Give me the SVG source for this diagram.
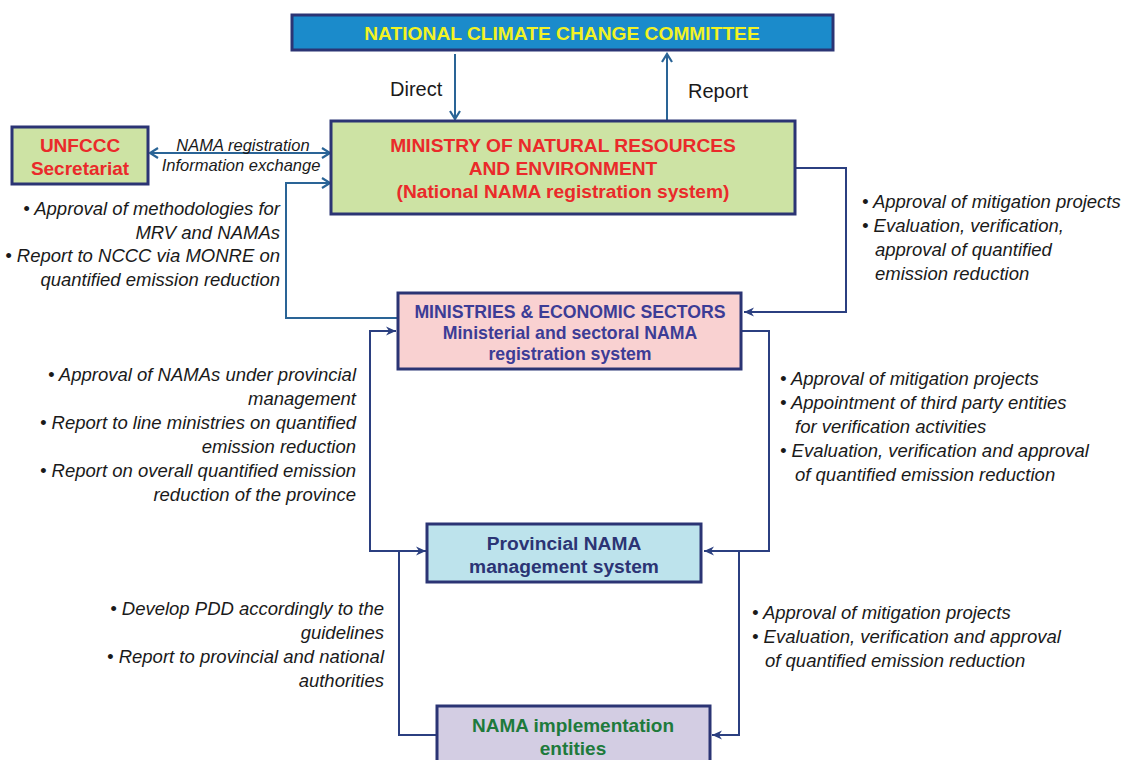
<svg xmlns="http://www.w3.org/2000/svg" width="1130" height="760" viewBox="0 0 1130 760">
<style>
.box{stroke:#2b3474;stroke-width:3}
.t{font-family:"Liberation Sans",Arial,sans-serif;font-weight:bold;text-anchor:middle}
.n{font-family:"Liberation Sans",Arial,sans-serif;font-style:italic;font-size:18.5px;fill:#1a1a1a}
.s{font-family:"Liberation Sans",Arial,sans-serif;font-style:italic;font-size:16.5px;fill:#1a1a1a;text-anchor:middle}
.r{text-anchor:end}
.lbl{font-family:"Liberation Sans",Arial,sans-serif;font-size:20px;fill:#1a1a1a}
.c1{fill:none;stroke:#2a6496;stroke-width:2}
.c2{fill:none;stroke:#2b3f80;stroke-width:2}
</style>
<defs>
<marker id="ao" markerWidth="12" markerHeight="12" refX="10" refY="6" orient="auto-start-reverse" markerUnits="userSpaceOnUse"><path d="M2,1 L10,6 L2,11" fill="none" stroke="#2a6496" stroke-width="2.2"/></marker>
<marker id="af" markerWidth="12" markerHeight="12" refX="10" refY="6" orient="auto-start-reverse" markerUnits="userSpaceOnUse"><path d="M0,1.5 L10,6 L0,10.5 L3,6 Z" fill="#2b3f80"/></marker>
</defs>
<rect width="1130" height="760" fill="#ffffff"/>

<g id="connectors">
<path class="c1" d="M455,54 V119" marker-end="url(#ao)"/>
<path class="c1" d="M667,120 V54" marker-end="url(#ao)"/>
<path class="c1" d="M150,153 H330" marker-start="url(#ao)" marker-end="url(#ao)"/>
<path class="c1" d="M398,318 H286 V183 H330" marker-end="url(#ao)"/>
<path class="c2" d="M796,168 H846 V312 H744" marker-end="url(#af)"/>
<path class="c2" d="M396,331 H370 V551 H426" marker-start="url(#af)" marker-end="url(#af)"/>
<path class="c2" d="M742,331 H769 V551 H704" marker-end="url(#af)"/>
<path class="c2" d="M437,735 H399 V551"/>
<path class="c2" d="M739,551 V735 H712" marker-end="url(#af)"/>
<text class="lbl" x="390" y="96">Direct</text>
<text class="lbl" x="688" y="98">Report</text>
<text class="s" x="243" y="151">NAMA registration</text>
<text class="s" x="241" y="171">Information exchange</text>
</g>

<g id="nccc">
<rect class="box" x="292" y="15" width="541" height="35" fill="#1b8bcb"/>
<text class="t" x="562" y="40" font-size="19.2" fill="#f2f224">NATIONAL CLIMATE CHANGE COMMITTEE</text>
</g>

<g id="monre">
<rect class="box" x="331" y="121" width="464" height="93" fill="#cde3a4"/>
<text class="t" x="563" y="152" font-size="19.2" fill="#ea2a2a">MINISTRY OF NATURAL RESOURCES</text>
<text class="t" x="563" y="175" font-size="19.2" fill="#ea2a2a">AND ENVIRONMENT</text>
<text class="t" x="563" y="198" font-size="19.2" fill="#ea2a2a">(National NAMA registration system)</text>
</g>

<g id="unfccc">
<rect class="box" x="12" y="127" width="136" height="57" fill="#cde3a4"/>
<text class="t" x="80" y="152" font-size="19" fill="#ea2a2a">UNFCCC</text>
<text class="t" x="80" y="175" font-size="19" fill="#ea2a2a">Secretariat</text>
</g>

<g id="ministries">
<rect class="box" x="398" y="293" width="343" height="76" fill="#f9d1d1"/>
<text class="t" x="570" y="318" font-size="17.7" fill="#3c3c96">MINISTRIES &amp; ECONOMIC SECTORS</text>
<text class="t" x="570" y="339" font-size="17.7" fill="#3c3c96">Ministerial and sectoral NAMA</text>
<text class="t" x="570" y="360" font-size="17.7" fill="#3c3c96">registration system</text>
</g>

<g id="provincial">
<rect class="box" x="427" y="524" width="274" height="58" fill="#bde3ec"/>
<text class="t" x="564" y="550" font-size="19.2" fill="#2b3474">Provincial NAMA</text>
<text class="t" x="564" y="573" font-size="19.2" fill="#2b3474">management system</text>
</g>

<g id="entities">
<rect class="box" x="437" y="706" width="273" height="60" fill="#d3cde3"/>
<text class="t" x="573" y="732" font-size="19" fill="#1e7a3c">NAMA implementation</text>
<text class="t" x="573" y="755" font-size="19" fill="#1e7a3c">entities</text>
</g>

<g id="notes">
<text class="n r" x="280" y="215">•  Approval of methodologies for</text>
<text class="n r" x="280" y="239">MRV and NAMAs</text>
<text class="n r" x="280" y="262">•  Report to NCCC via MONRE on</text>
<text class="n r" x="280" y="286">quantified emission reduction</text>

<text class="n" x="862" y="208">•  Approval of mitigation projects</text>
<text class="n" x="862" y="232">•  Evaluation, verification,</text>
<text class="n" x="875" y="256">approval of quantified</text>
<text class="n" x="875" y="280">emission reduction</text>

<text class="n r" x="356" y="381">•  Approval of NAMAs under provincial</text>
<text class="n r" x="356" y="405">management</text>
<text class="n r" x="356" y="429">•  Report to line ministries on quantified</text>
<text class="n r" x="356" y="453">emission reduction</text>
<text class="n r" x="356" y="477">•  Report on overall quantified emission</text>
<text class="n r" x="356" y="501">reduction of the province</text>

<text class="n" x="780" y="385">•  Approval of mitigation projects</text>
<text class="n" x="780" y="409">•  Appointment of third party entities</text>
<text class="n" x="795" y="433">for verification activities</text>
<text class="n" x="780" y="457">•  Evaluation, verification and approval</text>
<text class="n" x="795" y="481">of quantified emission reduction</text>

<text class="n r" x="384" y="615">•  Develop PDD accordingly to the</text>
<text class="n r" x="384" y="639">guidelines</text>
<text class="n r" x="384" y="663">•  Report to provincial and national</text>
<text class="n r" x="384" y="687">authorities</text>

<text class="n" x="752" y="619">•  Approval of mitigation projects</text>
<text class="n" x="752" y="643">•  Evaluation, verification and approval</text>
<text class="n" x="765" y="667">of quantified emission reduction</text>
</g>
</svg>
